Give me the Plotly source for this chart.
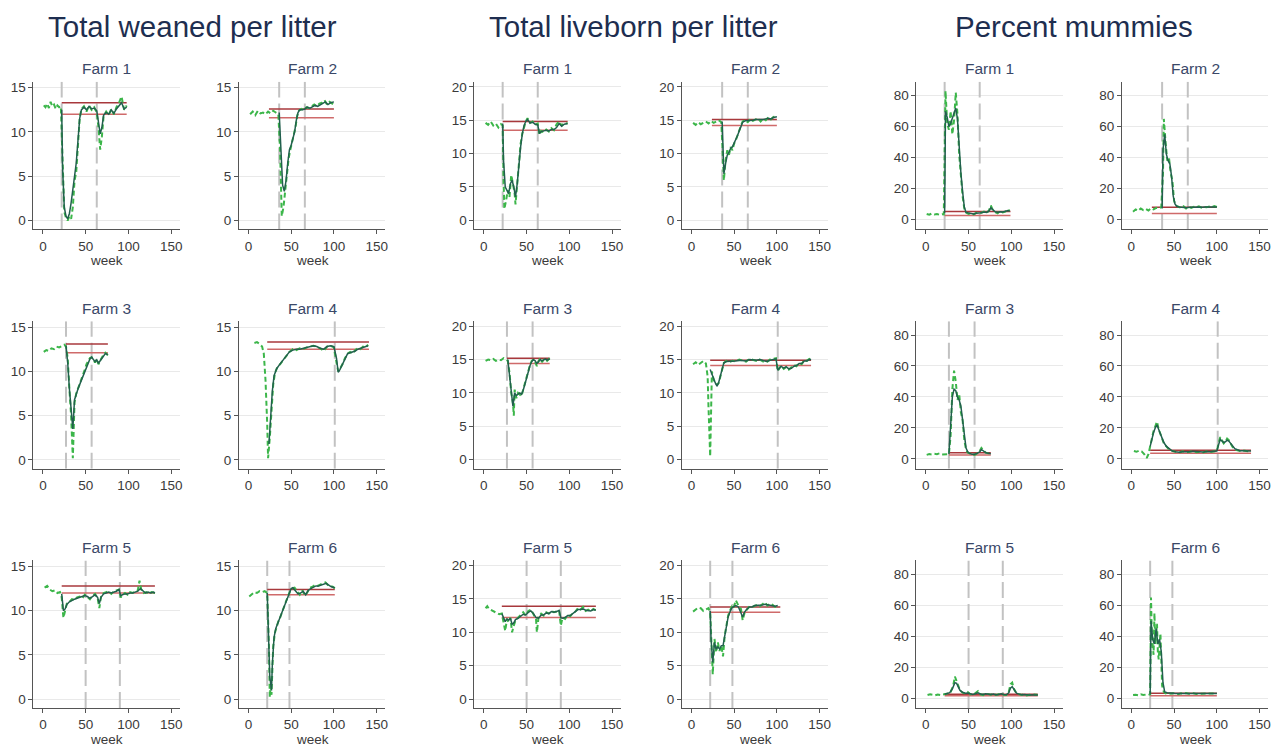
import plotly.graph_objects as go

# ---------------- text / ticks ----------------
metric_titles = ["Total weaned per litter", "Total liveborn per litter", "Percent mummies"]
farm_labels = ["Farm 1", "Farm 2", "Farm 3", "Farm 4", "Farm 5", "Farm 6"]
x_ticks = [0, 50, 100, 150]
y_ticks_tw = [0, 5, 10, 15]
y_ticks_lb = [0, 5, 10, 15, 20]
y_ticks_mm = [0, 20, 40, 60, 80]
x_title = "week"

# ---------------- vertical reference weeks per farm ----------------
vl_f1 = [22, 63]
vl_f2 = [36, 66]
vl_f3 = [27, 57]
vl_f4 = [101]
vl_f5 = [50, 90]
vl_f6 = [22, 48]

# ---------------- Total weaned per litter ----------------
tw1_ow = [1,3,5,7,9,11,13,15,17,19,21,23,25,27,29,31,33,35,37,39,41,43,45,48,51,54,57,60,63,65,67,69,71,74,77,80,83,86,89,92,95,98]
tw1_ov = [13.0,12.8,13.2,12.7,13.4,12.9,13.1,12.6,13.0,12.8,12.9,8.0,1.0,0.3,0.0,0.5,0.2,1.5,4.5,5.5,8.5,11.5,12.6,12.9,12.3,13.0,12.5,12.8,12.2,10.5,8.0,9.5,11.8,12.3,11.9,12.6,12.0,12.8,13.3,14.0,12.5,13.0]
tw1_fw = [22,23,25,27,29,31,33,35,37,39,41,43,45,48,51,54,57,60,63,65,67,69,71,74,77,80,83,86,89,92,95,98]
tw1_fv = [12.5,6.0,1.5,0.5,0.2,0.8,2.0,3.5,5.0,6.5,9.0,11.5,12.5,12.8,12.5,12.9,12.6,12.7,12.4,11.0,9.8,10.5,11.9,12.2,12.0,12.5,12.1,12.6,13.0,13.3,12.6,12.8]
tw1_red = [22, 98, 13.3, 12.0]

tw2_ow = [2,5,8,11,14,17,20,23,26,29,32,35,37,39,41,43,45,47,49,51,53,55,57,59,62,65,68,71,74,77,80,83,86,89,92,95,98,100]
tw2_ov = [12.0,12.3,11.9,12.4,12.1,12.2,12.0,12.3,12.1,12.4,12.2,12.0,8.0,0.5,1.5,3.5,5.0,7.0,8.0,8.8,9.5,10.5,11.8,12.4,12.6,12.5,12.8,12.7,12.9,13.1,12.9,13.2,13.3,13.6,13.1,13.4,13.2,13.5]
tw2_fw = [36,38,40,42,44,46,48,50,52,54,56,58,60,63,66,69,72,75,78,81,84,87,90,93,96,100]
tw2_fv = [12.2,7.5,4.0,3.3,4.5,6.5,8.0,8.5,9.2,10.0,11.3,12.2,12.5,12.5,12.6,12.8,12.7,12.9,13.0,12.9,13.1,13.2,13.4,13.1,13.3,13.4]
tw2_red = [24, 100, 12.6, 11.6]

tw3_ow = [1,4,7,10,13,16,19,22,25,27,29,31,33,35,36,37,39,41,43,45,47,49,51,53,55,57,59,61,63,65,67,69,71,73,76]
tw3_ov = [12.2,12.4,12.3,12.6,12.5,12.8,12.7,12.9,13.0,12.8,11.5,8.0,5.0,0.2,3.0,6.5,7.5,8.0,8.5,9.0,9.5,10.2,10.8,11.2,11.5,11.6,11.3,11.0,11.4,10.8,11.2,11.6,11.9,12.1,11.8]
tw3_fw = [27,29,31,33,35,37,39,41,43,45,47,49,51,53,55,57,59,61,63,65,67,69,71,73,76]
tw3_fv = [12.9,11.0,8.0,5.5,3.5,6.8,7.5,8.0,8.5,9.0,9.5,10.0,10.5,11.0,11.4,11.6,11.3,11.1,11.3,10.9,11.2,11.5,11.8,12.0,11.9]
tw3_red = [27, 76, 13.1, 12.1]

tw4_ow = [7,10,13,16,18,20,22,23,25,27,29,31,34,37,40,44,48,52,56,60,64,68,72,76,80,84,88,92,96,100,103,105,107,110,113,116,119,122,125,128,131,134,137,140]
tw4_ov = [13.2,13.3,13.1,12.8,12.0,9.0,4.0,0.2,2.5,6.0,8.5,9.8,10.5,10.8,11.2,11.8,12.2,12.5,12.4,12.6,12.5,12.7,12.8,12.9,12.8,12.6,12.3,12.8,12.9,12.7,11.0,10.0,10.3,10.8,11.5,12.0,12.2,12.0,12.4,12.6,12.5,12.8,12.7,13.0]
tw4_fw = [24,26,28,30,33,36,40,44,48,52,56,60,64,68,72,76,80,84,88,92,96,100,103,105,107,110,113,116,119,122,125,128,131,134,137,140]
tw4_fv = [1.8,5.5,7.8,9.5,10.3,10.7,11.2,11.7,12.2,12.4,12.5,12.5,12.6,12.7,12.8,12.9,12.8,12.6,12.5,12.8,12.9,12.8,11.5,9.9,10.2,10.8,11.4,12.0,12.1,12.2,12.3,12.5,12.6,12.7,12.8,12.9]
tw4_red = [22, 141, 13.3, 12.5]

tw5_ow = [2,5,8,11,14,17,20,22,24,26,28,31,34,37,40,43,46,49,52,55,58,61,64,66,68,71,74,77,80,83,86,89,91,93,96,99,102,105,108,111,113,115,118,121,124,127,131]
tw5_ov = [12.6,12.8,12.4,12.2,12.3,12.0,12.1,11.5,9.2,10.2,10.8,11.0,11.3,11.2,11.5,11.6,11.4,11.8,11.5,11.3,11.7,11.9,11.4,10.3,11.6,12.0,12.1,12.2,11.9,12.2,12.3,12.4,11.5,11.8,12.0,11.8,12.1,12.0,12.2,12.3,13.4,12.4,12.0,12.1,11.9,12.1,12.0]
tw5_fw = [22,24,26,28,31,34,37,40,43,46,49,52,55,58,61,64,66,68,71,74,77,80,83,86,89,91,93,96,99,102,105,108,111,114,117,120,123,126,129,131]
tw5_fv = [11.9,10.0,10.2,10.7,11.0,11.2,11.3,11.4,11.5,11.6,11.7,11.6,11.4,11.6,11.8,11.5,10.8,11.5,11.9,12.0,12.1,12.0,12.1,12.2,12.4,11.7,11.8,11.9,11.9,12.0,12.0,12.1,12.2,12.5,12.2,12.0,12.1,12.0,12.1,12.0]
tw5_red = [22, 131, 12.8, 12.0]

tw6_ow = [1,4,7,10,13,16,19,22,24,25,26,27,28,29,31,33,35,37,39,41,43,45,47,49,51,54,57,60,63,66,69,72,75,78,81,84,87,90,93,96,99,101]
tw6_ov = [11.6,11.9,12.1,12.0,12.2,12.1,12.2,12.0,6.0,0.2,1.5,0.5,3.0,6.0,7.5,8.2,8.8,9.2,9.8,10.2,10.8,11.3,11.8,12.3,12.5,12.6,12.2,11.8,12.3,11.7,12.1,12.6,12.7,12.9,12.8,13.0,13.1,13.2,12.9,12.8,12.7,12.5]
tw6_fw = [22,23,25,26,27,28,30,32,34,36,38,40,42,44,46,48,50,52,55,58,61,64,67,70,73,76,79,82,85,88,91,94,97,101]
tw6_fv = [12.0,8.0,2.5,1.8,1.0,4.0,7.0,8.0,8.5,9.0,9.5,10.0,10.5,11.0,11.7,12.2,12.5,12.6,12.3,11.9,12.0,12.2,11.8,12.3,12.5,12.7,12.8,12.8,12.9,13.0,13.1,12.9,12.7,12.6]
tw6_red = [22, 101, 12.4, 11.8]

# ---------------- Total liveborn per litter ----------------
lb1_ow = [2,5,8,11,14,17,20,22,23,24,26,28,30,32,34,36,37,39,41,43,45,47,49,51,54,57,60,63,65,67,70,73,76,79,82,85,88,91,94,98]
lb1_ov = [14.6,14.3,14.8,14.2,14.5,13.9,14.4,14.2,6.0,1.7,3.0,4.5,3.5,6.8,5.5,4.0,2.4,5.5,9.0,11.5,13.0,14.0,14.8,15.3,14.6,14.8,14.3,14.5,12.8,13.4,13.2,13.6,13.3,13.8,13.5,14.4,14.8,14.2,14.6,14.5]
lb1_fw = [22,23,25,27,29,31,33,35,37,39,41,43,45,47,49,51,54,57,60,63,65,67,70,73,76,79,82,85,88,91,94,98]
lb1_fv = [14.5,9.0,5.0,4.5,4.0,5.5,6.0,5.0,3.5,5.5,8.5,11.0,13.0,14.2,14.8,15.1,14.6,14.7,14.4,14.3,13.0,13.3,13.4,13.5,13.4,13.6,13.6,13.9,14.5,14.1,14.4,14.5]
lb1_red = [22, 98, 14.8, 13.5]

lb2_ow = [2,5,8,11,14,17,20,23,26,29,32,35,37,38,40,42,44,46,48,50,52,54,56,58,60,63,66,69,72,75,78,81,84,87,90,93,96,100]
lb2_ov = [14.6,14.3,14.7,14.4,14.6,14.8,14.5,14.9,14.6,14.8,15.0,14.7,10.0,6.0,9.0,10.5,9.8,11.0,10.5,11.5,12.0,12.8,13.5,14.2,14.8,15.0,14.7,15.2,14.9,15.1,15.3,14.8,15.2,15.0,15.4,15.1,15.5,15.6]
lb2_fw = [36,38,40,42,44,46,48,50,52,54,56,58,60,63,66,69,72,75,78,81,84,87,90,93,96,100]
lb2_fv = [14.8,7.0,8.5,9.8,10.2,10.8,11.0,11.5,12.0,12.7,13.4,14.2,14.7,14.9,14.9,15.0,15.0,15.1,15.1,15.0,15.1,15.2,15.3,15.2,15.4,15.5]
lb2_red = [24, 100, 15.1, 14.2]

lb3_ow = [2,5,8,11,14,17,20,23,26,28,30,32,34,35,36,38,40,42,44,46,48,50,52,54,56,58,60,62,64,66,68,70,72,74,77]
lb3_ov = [14.8,15.0,14.9,15.1,14.8,15.0,14.9,15.2,15.0,14.8,13.0,10.0,8.5,6.6,10.5,9.2,10.0,9.8,9.5,10.5,11.5,12.5,13.5,14.2,14.8,15.0,14.6,14.0,14.8,15.2,14.6,15.0,15.1,14.8,15.2]
lb3_fw = [28,30,32,34,36,38,40,42,44,46,48,50,52,54,56,58,60,62,64,66,68,70,72,74,77]
lb3_fv = [15.0,12.5,9.5,8.0,10.0,9.6,9.8,10.0,9.8,10.4,11.3,12.3,13.3,14.1,14.7,15.0,14.8,14.4,14.7,15.0,14.8,15.0,15.1,14.9,15.1]
lb3_red = [27, 77, 15.2, 14.4]

lb4_ow = [2,5,8,11,14,17,19,20,21,22,24,26,28,30,32,34,36,38,41,44,48,52,56,60,64,68,72,76,80,84,88,92,96,99,101,103,105,108,111,114,117,120,123,126,129,132,135,138,140]
lb4_ov = [14.3,14.6,14.2,14.5,14.8,14.4,12.5,8.0,4.0,0.5,13.2,12.0,11.5,11.2,11.5,12.5,13.8,14.5,14.8,14.6,14.8,14.7,15.0,14.9,14.7,15.1,14.9,14.8,15.0,14.7,14.6,15.0,15.1,15.2,13.3,13.8,14.1,13.6,13.9,13.5,13.8,14.2,14.0,14.5,14.3,14.9,14.8,15.1,15.0]
lb4_fw = [22,24,26,28,30,32,34,36,38,41,44,48,52,56,60,64,68,72,76,80,84,88,92,96,99,101,103,105,108,111,114,117,120,123,126,129,132,135,138,140]
lb4_fv = [13.5,12.8,12.0,11.5,11.0,11.6,12.6,13.8,14.5,14.7,14.7,14.8,14.8,14.9,14.9,14.8,15.0,14.9,14.9,15.0,14.8,14.7,14.9,15.0,15.1,13.4,13.7,14.0,13.7,13.9,13.6,13.7,14.0,14.1,14.4,14.4,14.8,14.8,15.0,15.0]
lb4_red = [22, 140, 14.9, 14.1]

lb5_ow = [2,4,6,9,12,15,18,21,23,25,27,29,31,33,35,37,40,43,46,49,52,55,58,61,62,64,67,70,73,76,79,82,85,88,90,92,95,98,101,104,107,110,113,116,119,122,125,128,131]
lb5_ov = [13.6,13.9,13.5,13.3,13.0,12.9,12.7,12.8,11.5,10.2,12.0,11.5,12.2,10.0,11.0,11.8,12.2,12.6,13.0,12.5,13.2,13.4,12.8,12.0,10.0,12.3,12.8,12.5,13.0,12.8,13.2,13.0,13.1,13.3,11.0,12.2,12.0,12.6,12.4,12.9,13.1,13.6,13.4,13.8,13.2,13.4,13.1,13.5,13.3]
lb5_fw = [21,23,25,27,29,31,33,35,37,40,43,46,49,52,55,58,61,64,67,70,73,76,79,82,85,88,90,92,95,98,101,104,107,110,113,116,119,122,125,128,131]
lb5_fv = [12.8,12.2,11.6,12.0,11.8,12.1,11.2,11.4,11.9,12.1,12.4,12.7,12.6,13.0,13.2,12.8,12.2,12.1,12.6,12.6,12.9,12.8,13.1,13.0,13.1,13.3,12.2,12.1,12.2,12.5,12.5,12.8,13.0,13.4,13.4,13.5,13.3,13.3,13.2,13.4,13.3]
lb5_red = [21, 131, 13.9, 12.2]

lb6_ow = [2,5,8,11,14,17,20,22,24,25,27,29,31,33,35,37,39,41,43,45,47,49,52,55,58,60,62,65,68,71,74,77,80,83,86,89,92,95,98,101]
lb6_ov = [13.1,13.4,13.7,13.6,13.2,13.4,13.6,13.0,7.0,3.7,9.0,7.0,8.5,7.2,8.0,6.4,9.5,11.0,12.5,13.2,13.8,13.5,14.8,14.0,13.5,11.8,12.8,13.4,13.9,13.8,14.0,14.1,13.9,14.2,14.5,14.0,14.3,14.1,13.8,14.0]
lb6_fw = [22,23,25,27,29,31,33,35,37,39,41,43,45,47,49,52,55,58,60,62,65,68,71,74,77,80,83,86,89,92,95,98,101]
lb6_fv = [13.2,9.0,5.5,8.5,7.5,7.8,7.5,8.0,8.0,9.5,11.0,12.3,13.0,13.6,13.8,14.0,13.8,13.0,12.3,13.0,13.5,13.8,13.8,14.0,14.0,14.0,14.1,14.2,14.1,14.1,14.0,13.9,14.0]
lb6_red = [22, 104, 13.8, 13.0]

# ---------------- Percent mummies ----------------
mm1_ow = [1,4,7,10,13,16,19,21,23,25,27,29,31,33,35,37,39,41,43,45,47,50,53,56,59,62,65,68,71,74,76,78,81,84,87,90,93,96,98]
mm1_ov = [3.5,3.0,3.8,3.2,3.5,3.0,3.4,3.3,83.0,62.0,58.0,70.0,55.0,64.0,82.0,68.0,42.0,28.0,15.0,7.0,4.5,3.5,4.0,3.2,4.2,3.8,4.5,5.0,4.0,6.0,9.0,6.5,4.8,4.0,5.5,4.5,5.0,6.5,5.5]
mm1_fw = [22,23,25,27,29,31,33,35,37,39,41,43,45,47,50,53,56,59,62,65,68,71,74,76,78,81,84,87,90,93,96,98]
mm1_fv = [4.0,70.0,66.0,60.0,62.0,65.0,68.0,72.0,65.0,45.0,30.0,18.0,8.0,4.5,4.0,3.8,3.5,4.0,4.0,4.3,4.8,4.5,5.5,7.5,6.5,5.0,4.5,5.0,4.8,5.2,5.8,5.5]
mm1_red = [22, 99, 5.2, 2.6]

mm2_ow = [2,5,8,11,14,17,20,23,26,29,32,35,37,38,40,42,44,46,48,50,52,55,58,61,64,67,70,73,76,79,82,85,88,91,94,97,100]
mm2_ov = [5.0,6.5,5.5,7.0,6.0,6.8,5.8,7.2,6.5,7.5,7.0,8.0,30.0,65.0,50.0,38.0,40.0,30.0,25.0,12.0,9.0,8.0,7.5,8.5,7.0,8.0,7.5,8.2,7.8,8.5,7.6,8.0,7.8,8.3,7.9,8.6,8.0]
mm2_fw = [36,37,39,41,43,45,47,49,51,53,56,59,62,65,68,71,74,77,80,83,86,89,92,95,98,100]
mm2_fv = [7.0,45.0,55.0,42.0,38.0,36.0,28.0,15.0,10.0,8.5,8.0,7.8,7.5,7.6,7.8,7.7,7.9,8.0,7.8,7.9,8.0,8.1,8.0,8.2,8.1,8.0]
mm2_red = [24, 100, 7.8, 3.8]

mm3_ow = [1,4,7,10,13,16,19,22,25,27,29,31,33,35,37,39,41,43,45,47,49,51,54,57,60,63,65,67,70,73,76]
mm3_ov = [2.5,3.0,2.8,3.2,3.0,3.5,2.8,3.0,3.3,3.0,15.0,45.0,57.0,50.0,38.0,42.0,30.0,25.0,12.0,6.0,4.0,3.5,3.0,2.5,3.5,5.0,7.0,5.5,4.0,3.5,3.0]
mm3_fw = [27,29,31,33,35,37,39,41,43,45,47,49,51,54,57,60,63,65,67,70,73,76]
mm3_fv = [3.0,20.0,40.0,45.0,44.0,40.0,38.0,34.0,25.0,14.0,7.0,4.5,3.5,3.0,3.0,3.5,4.5,6.0,5.0,4.0,3.5,3.2]
mm3_red = [27, 76, 3.9, 2.5]

mm4_ow = [3,6,9,12,15,18,20,22,24,26,28,30,32,34,36,38,41,44,48,52,56,60,64,68,72,76,80,84,88,92,96,100,102,104,106,108,110,112,114,116,118,121,124,127,130,133,136,140]
mm4_ov = [5.0,4.5,5.2,4.8,3.0,0.5,3.0,8.0,14.0,18.0,21.0,24.0,19.0,16.0,13.0,10.0,8.0,6.0,5.0,4.5,4.0,4.8,4.2,4.5,5.0,4.3,4.6,4.1,4.8,4.4,4.9,5.0,10.0,14.0,12.0,10.0,11.0,13.0,12.0,10.0,8.0,6.0,5.5,5.0,5.5,5.0,4.8,5.2]
mm4_fw = [22,24,26,28,30,32,34,36,38,41,44,48,52,56,60,64,68,72,76,80,84,88,92,96,100,102,104,106,108,110,112,114,116,118,121,124,127,130,133,136,140]
mm4_fv = [8.0,13.0,17.0,20.0,22.0,19.0,16.0,13.0,10.5,8.0,6.5,5.0,4.5,4.2,4.6,4.4,4.5,4.8,4.5,4.6,4.4,4.7,4.5,4.8,5.0,9.0,12.5,11.5,10.5,11.0,12.0,11.5,10.0,8.5,6.5,5.8,5.2,5.2,5.0,5.0,5.1]
mm4_red = [22, 140, 5.5, 3.5]

mm5_ow = [2,5,8,11,14,17,20,23,26,29,32,34,36,38,40,43,46,49,52,55,58,61,64,67,70,73,76,79,82,85,88,91,94,97,99,101,103,106,109,112,115,118,121,124,127,131]
mm5_ov = [2.0,2.5,2.2,1.8,2.3,2.0,2.4,2.8,3.0,4.0,8.0,14.0,11.0,8.0,5.0,3.5,3.0,4.0,2.5,2.0,3.0,4.5,2.5,2.0,3.0,2.5,2.2,2.8,2.0,2.5,3.0,2.2,2.0,4.0,9.0,10.0,6.0,3.0,2.5,2.0,2.5,1.8,2.2,2.0,2.4,2.1]
mm5_fw = [22,25,28,31,34,36,38,40,43,46,49,52,55,58,61,64,67,70,73,76,79,82,85,88,91,94,97,99,101,103,106,109,112,115,118,121,124,127,131]
mm5_fv = [2.5,2.8,3.5,6.0,10.0,9.5,7.0,5.0,3.8,3.2,3.3,2.8,2.4,2.8,3.5,2.7,2.3,2.8,2.5,2.3,2.6,2.2,2.4,2.8,2.3,2.2,3.5,6.5,7.5,5.5,3.2,2.6,2.2,2.3,2.0,2.1,2.0,2.2,2.1]
mm5_red = [22, 131, 2.5, 1.5]

mm6_ow = [2,5,8,11,14,17,20,22,23,24,26,27,28,30,31,32,34,35,36,38,40,43,46,49,52,55,58,61,64,67,70,73,76,79,82,85,88,91,94,97,100]
mm6_ov = [2.0,2.2,1.8,2.5,2.0,2.3,2.1,2.5,65.0,40.0,28.0,55.0,35.0,48.0,30.0,25.0,42.0,20.0,8.0,4.0,3.0,3.5,2.8,3.2,3.0,2.6,3.1,2.9,3.3,2.8,3.0,3.2,2.7,3.1,2.9,3.0,2.8,3.2,3.0,2.9,3.1]
mm6_fw = [22,23,25,27,29,31,33,35,37,39,42,45,48,51,55,60,65,70,75,80,85,90,95,100]
mm6_fv = [2.5,50.0,38.0,35.0,45.0,35.0,38.0,30.0,10.0,4.0,3.5,3.2,3.0,3.0,3.0,3.0,3.1,3.0,3.0,3.0,3.0,3.0,3.0,3.0]
mm6_red = [22, 100, 3.2, 1.5]

# ---------------- assemble ----------------
vlines = [vl_f1, vl_f2, vl_f3, vl_f4, vl_f5, vl_f6]
metrics = [
    [(tw1_ow, tw1_ov, tw1_fw, tw1_fv, tw1_red), (tw2_ow, tw2_ov, tw2_fw, tw2_fv, tw2_red),
     (tw3_ow, tw3_ov, tw3_fw, tw3_fv, tw3_red), (tw4_ow, tw4_ov, tw4_fw, tw4_fv, tw4_red),
     (tw5_ow, tw5_ov, tw5_fw, tw5_fv, tw5_red), (tw6_ow, tw6_ov, tw6_fw, tw6_fv, tw6_red)],
    [(lb1_ow, lb1_ov, lb1_fw, lb1_fv, lb1_red), (lb2_ow, lb2_ov, lb2_fw, lb2_fv, lb2_red),
     (lb3_ow, lb3_ov, lb3_fw, lb3_fv, lb3_red), (lb4_ow, lb4_ov, lb4_fw, lb4_fv, lb4_red),
     (lb5_ow, lb5_ov, lb5_fw, lb5_fv, lb5_red), (lb6_ow, lb6_ov, lb6_fw, lb6_fv, lb6_red)],
    [(mm1_ow, mm1_ov, mm1_fw, mm1_fv, mm1_red), (mm2_ow, mm2_ov, mm2_fw, mm2_fv, mm2_red),
     (mm3_ow, mm3_ov, mm3_fw, mm3_fv, mm3_red), (mm4_ow, mm4_ov, mm4_fw, mm4_fv, mm4_red),
     (mm5_ow, mm5_ov, mm5_fw, mm5_fv, mm5_red), (mm6_ow, mm6_ov, mm6_fw, mm6_fv, mm6_red)],
]
y_ticks = [y_ticks_tw, y_ticks_lb, y_ticks_mm]
y_ranges = [[-1.0, 15.67], [-1.35, 20.75], [-6.45, 89.0]]
x_range = [-11, 160]

# ---------------- geometry (pixels) ----------------
W, H = 1285, 746
col_zero_px = [43, 249, 485, 693, 928, 1134]
px_per_wk = 0.857
row_top = [80, 320, 560]
row_bot = [228, 468, 708]
title_cx = [193, 635, 1077]

FONT = "Arial, Liberation Sans, sans-serif"
C_OBS = "#3cb64a"
C_FIT = "#22604e"
C_RED1 = "#a8383c"
C_RED2 = "#cf6a6a"
C_VL = "#c2c2c2"
C_TICK = "#3a3a3a"
C_SUB = "#3a4868"
C_TITLE = "#1e2e50"

fig = go.Figure()
layout = dict(width=W, height=H, margin=dict(l=0, r=0, t=0, b=0),
              paper_bgcolor="white", plot_bgcolor="white", showlegend=False,
              font=dict(family=FONT, color=C_TICK))
annotations = []

n = 0
for g in range(3):
    annotations.append(dict(text=metric_titles[g], x=title_cx[g] / W, y=1 - 25 / H,
                            xref="paper", yref="paper", showarrow=False,
                            xanchor="center", yanchor="middle",
                            font=dict(size=29.5, color=C_TITLE, family=FONT)))
    for f in range(6):
        n += 1
        r, c = f // 2, f % 2
        ci = 2 * g + c
        x0 = col_zero_px[ci]
        left = x0 + x_range[0] * px_per_wk
        right = x0 + x_range[1] * px_per_wk
        sfx = "" if n == 1 else str(n)
        xa, ya = "x" + sfx, "y" + sfx
        layout["xaxis" + sfx] = dict(
            domain=[left / W, right / W], anchor=ya, range=x_range,
            tickvals=x_ticks, ticks="outside", ticklen=4, tickcolor="#555",
            showline=True, linecolor="#555", linewidth=1, showgrid=False, zeroline=False,
            tickfont=dict(size=13.5, color=C_TICK, family=FONT))
        layout["yaxis" + sfx] = dict(
            domain=[1 - row_bot[r] / H, 1 - row_top[r] / H], anchor=xa, range=y_ranges[g],
            tickvals=y_ticks[g], ticks="outside", ticklen=4, tickcolor="#555",
            showline=True, linecolor="#555", linewidth=1, showgrid=True,
            gridcolor="#e9e9e9", gridwidth=1, zeroline=False,
            tickfont=dict(size=13.5, color=C_TICK, family=FONT))
        ow, ov, fw, fv, red = metrics[g][f]
        yr = y_ranges[g]
        for v in vlines[f]:
            fig.add_trace(go.Scatter(x=[v, v], y=[yr[0], yr[1]], mode="lines",
                                     line=dict(color=C_VL, width=2, dash="16px,6px"),
                                     xaxis=xa, yaxis=ya))
        fig.add_trace(go.Scatter(x=[red[0], red[1]], y=[red[2], red[2]], mode="lines",
                                 line=dict(color=C_RED1, width=1.5), xaxis=xa, yaxis=ya))
        fig.add_trace(go.Scatter(x=[red[0], red[1]], y=[red[3], red[3]], mode="lines",
                                 line=dict(color=C_RED2, width=1.5), xaxis=xa, yaxis=ya))
        fig.add_trace(go.Scatter(x=ow, y=ov, mode="lines",
                                 line=dict(color=C_OBS, width=2, dash="5px,3px"),
                                 xaxis=xa, yaxis=ya))
        fig.add_trace(go.Scatter(x=fw, y=fv, mode="lines",
                                 line=dict(color=C_FIT, width=1.5), xaxis=xa, yaxis=ya))
        cx = (left + right) / 2
        annotations.append(dict(text=farm_labels[f], x=cx / W, y=1 - (row_top[r] - 13) / H,
                                xref="paper", yref="paper", showarrow=False,
                                xanchor="center", yanchor="middle",
                                font=dict(size=15.5, color=C_SUB, family=FONT)))
        if r != 1:
            annotations.append(dict(text=x_title, x=cx / W, y=1 - (row_bot[r] + 31) / H,
                                    xref="paper", yref="paper", showarrow=False,
                                    xanchor="center", yanchor="middle",
                                    font=dict(size=13.5, color=C_TICK, family=FONT)))

layout["annotations"] = annotations
fig.update_layout(**layout)
fig.write_html("out.html")
